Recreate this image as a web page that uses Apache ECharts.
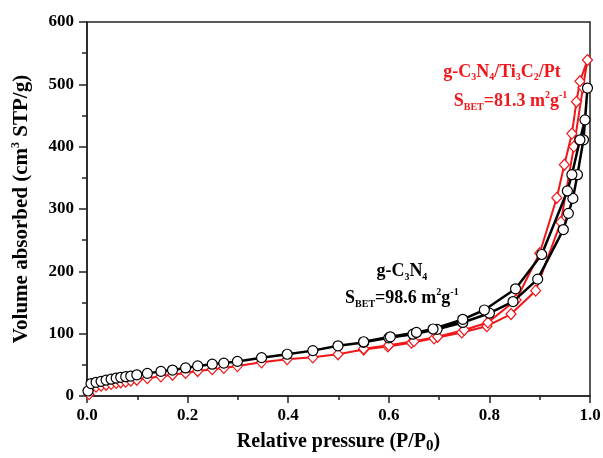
<!DOCTYPE html>
<html>
<head>
<meta charset="utf-8">
<script src="https://cdn.jsdelivr.net/npm/echarts@6/dist/echarts.min.js"></script>
<style>
  html, body { margin: 0; padding: 0; background: #fff; }
  #chart { width: 603px; height: 458px; }
</style>
</head>
<body>
<div id="chart"></div>
<script>
// N2 adsorption–desorption isotherms (P/P0 vs. volume, cm3 STP/g)

// g-C3N4: adsorption branch
const cnAdsP = [0.002, 0.008, 0.018, 0.028, 0.038, 0.048, 0.058, 0.067, 0.077, 0.087, 0.099,
  0.12, 0.147, 0.17, 0.196, 0.22, 0.249, 0.272, 0.299, 0.347, 0.398, 0.449, 0.499, 0.55,
  0.6, 0.648, 0.696, 0.747, 0.8, 0.847, 0.896, 0.947, 0.957, 0.966, 0.975, 0.987, 0.995];
const cnAdsV = [8, 20, 22, 23.5, 25.5, 27, 28.8, 30, 31, 32, 34,
  36.3, 39.5, 41.6, 45, 48.3, 51, 52.8, 55.5, 61.5, 67, 72.8, 80.5, 86,
  93.3, 99.2, 107, 118, 132.8, 151.5, 187.5, 267, 293, 317, 355, 411, 494];
// g-C3N4: desorption branch
const cnDesP = [0.99, 0.98, 0.964, 0.955, 0.904, 0.852, 0.79, 0.747, 0.688, 0.655, 0.603, 0.55];
const cnDesV = [443, 411, 355, 329, 227, 172, 138, 123, 107.5, 102, 95, 87];

// g-C3N4/Ti3C2/Pt: adsorption branch
const ptAdsP = [0.004, 0.008, 0.018, 0.028, 0.038, 0.048, 0.058, 0.067, 0.077, 0.087, 0.099,
  0.12, 0.147, 0.17, 0.196, 0.22, 0.249, 0.272, 0.299, 0.347, 0.398, 0.449, 0.499, 0.55,
  0.598, 0.645, 0.69, 0.745, 0.795, 0.843, 0.892, 0.942, 0.968, 0.986, 0.995];
const ptAdsV = [3, 13, 15, 16.5, 18, 19.5, 21, 22, 23, 24.5, 26,
  28.5, 31.5, 34, 37, 40, 43, 45, 48, 54, 59, 62, 67, 74.5,
  79.5, 85.5, 92.5, 102, 112, 131.5, 169, 279, 400, 495, 539];
// g-C3N4/Ti3C2/Pt: desorption branch
const ptDesP = [0.98, 0.973, 0.964, 0.949, 0.934, 0.9, 0.853, 0.797, 0.75, 0.697, 0.65, 0.6, 0.55];
const ptDesV = [505, 472, 421, 371, 318, 229, 154, 118, 106, 95, 88, 81.5, 76];

// Axis ranges and ticks
const xTicks = { min: 0, max: 1, step: 0.2 };
const yTicks = { min: 0, max: 600, step: 100 };

// Label texts and their anchor points (data coordinates)
const ptLabel = { line1: 'g-C{sub|3}N{sub|4}/Ti{sub|3}C{sub|2}/Pt', line2: 'S{sub|BET}=81.3 m{sup|2}g{sup|-1}' };
const cnLabel = { line1: 'g-C{sub|3}N{sub|4}', line2: 'S{sub|BET}=98.6 m{sup|2}g{sup|-1}' };
const ptLabelAt = [[0.825, 520], [0.842, 472]];
const cnLabelAt = [[0.626, 200], [0.626, 157]];

const FONT = 'Liberation Serif';
const RED = '#f0161a';
const BLACK = '#000000';

function pairs(xs, ys) { return xs.map((x, i) => [x, ys[i]]); }
function loop(adsP, adsV, desP, desV) {
  return pairs(adsP, adsV).concat(pairs(desP, desV));
}

function richFor(color) {
  const base = { fontFamily: FONT, fontWeight: 'bold', color: color };
  return {
    n: Object.assign({ fontSize: 18, lineHeight: 22, verticalAlign: 'middle' }, base),
    sub: Object.assign({ fontSize: 10, lineHeight: 10, verticalAlign: 'bottom' }, base),
    sup: Object.assign({ fontSize: 10, lineHeight: 10, verticalAlign: 'top' }, base)
  };
}
function wrapMain(s) {
  // wrap plain runs as {n|...} tokens so mixed tokens share one style set
  return s.replace(/(^|\})([^{]+)/g, (m, a, b) => a + '{n|' + b + '}');
}
function annotations(texts, at, color) {
  return [
    { coord: at[0], value: wrapMain(texts.line1) },
    { coord: at[1], value: wrapMain(texts.line2) }
  ].map(d => ({
    coord: d.coord,
    symbolSize: 0,
    label: { show: true, position: 'inside', formatter: d.value, rich: richFor(color) }
  }));
}

const chart = echarts.init(document.getElementById('chart'), null, { renderer: 'canvas' });

const axisLine = { show: true, lineStyle: { color: '#222', width: 1.5 } };

chart.setOption({
  animation: false,
  backgroundColor: '#fff',
  grid: {
    left: 87, right: 13, top: 22, bottom: 62,
    outerBoundsMode: 'none', containLabel: false,
    show: true, borderColor: '#222', borderWidth: 1.5, backgroundColor: 'transparent'
  },
  xAxis: {
    type: 'value',
    min: xTicks.min, max: xTicks.max, interval: xTicks.step,
    axisLine: axisLine,
    axisTick: { show: true, inside: false, length: 7, lineStyle: { color: '#222', width: 1.5 } },
    minorTick: { show: true, splitNumber: 2, length: 4, lineStyle: { color: '#222', width: 1.5 } },
    splitLine: { show: false },
    axisLabel: {
      margin: 11, color: '#000', fontFamily: FONT, fontWeight: 'bold', fontSize: 17,
      formatter: v => v.toFixed(1)
    },
    name: '{n|Relative pressure (P/P}{sub|0}{n|)}',
    nameLocation: 'middle', nameGap: 34,
    nameTextStyle: {
      rich: {
        n: { fontFamily: FONT, fontWeight: 'bold', fontSize: 20, lineHeight: 24, color: '#000', verticalAlign: 'middle' },
        sub: { fontFamily: FONT, fontWeight: 'bold', fontSize: 15, lineHeight: 14, color: '#000', verticalAlign: 'bottom' }
      }
    }
  },
  yAxis: {
    type: 'value',
    min: yTicks.min, max: yTicks.max, interval: yTicks.step,
    axisLine: axisLine,
    axisTick: { show: true, inside: false, length: 8, lineStyle: { color: '#222', width: 1.5 } },
    minorTick: { show: true, splitNumber: 2, length: 5, lineStyle: { color: '#222', width: 1.5 } },
    splitLine: { show: false },
    axisLabel: { margin: 13, color: '#000', fontFamily: FONT, fontWeight: 'bold', fontSize: 17 },
    name: '{n|Volume absorbed (cm}{sup|3}{n| STP/g)}',
    nameLocation: 'middle', nameGap: 53, nameRotate: 90,
    nameTextStyle: {
      rich: {
        n: { fontFamily: FONT, fontWeight: 'bold', fontSize: 21, lineHeight: 24, color: '#000', verticalAlign: 'middle' },
        sup: { fontFamily: FONT, fontWeight: 'bold', fontSize: 12, lineHeight: 12, color: '#000', verticalAlign: 'top' }
      }
    }
  },
  series: [
    {
      name: 'g-C3N4/Ti3C2/Pt',
      type: 'line',
      data: loop(ptAdsP, ptAdsV, ptDesP, ptDesV),
      symbol: 'diamond', symbolSize: [10, 11], showAllSymbol: true,
      lineStyle: { color: RED, width: 2 },
      itemStyle: { color: '#fff', borderColor: RED, borderWidth: 1.2 },
      markPoint: { symbol: 'circle', data: annotations(ptLabel, ptLabelAt, RED) },
      z: 2
    },
    {
      name: 'g-C3N4',
      type: 'line',
      data: loop(cnAdsP, cnAdsV, cnDesP, cnDesV),
      symbol: 'circle', symbolSize: 10, showAllSymbol: true,
      lineStyle: { color: BLACK, width: 2.5 },
      itemStyle: { color: '#fff', borderColor: BLACK, borderWidth: 1.2 },
      markPoint: { symbol: 'circle', data: annotations(cnLabel, cnLabelAt, BLACK) },
      z: 3
    }
  ]
});
</script>
</body>
</html>
